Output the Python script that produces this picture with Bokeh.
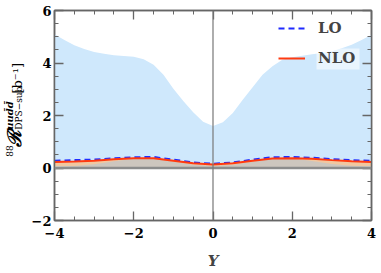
import numpy as np
from bokeh.plotting import figure
from bokeh.layouts import row
from bokeh.models import (Range1d, SingleIntervalTicker, LinearAxis, Span, Label,
                          Legend, LegendItem, CustomJSTickFormatter, BoxAnnotation)
from bokeh.embed import file_html
from bokeh.resources import INLINE

# ---------------- data ----------------
Y_fine = [-4.0, -3.75, -3.5, -3.25, -3.0, -2.75, -2.5, -2.25, -2.0, -1.75, -1.5, -1.25,
          -1.0, -0.75, -0.5, -0.25, 0.0, 0.25, 0.5, 0.75, 1.0, 1.25, 1.5, 1.75,
          2.0, 2.25, 2.5, 2.75, 3.0, 3.25, 3.5, 3.75, 4.0]
band_upper = [5.10, 4.88, 4.68, 4.53, 4.42, 4.35, 4.30, 4.27, 4.24, 4.14, 3.93, 3.55,
              3.02, 2.55, 2.12, 1.76, 1.60, 1.74, 2.10, 2.60, 3.08, 3.55, 3.88, 4.12,
              4.22, 4.28, 4.33, 4.38, 4.45, 4.56, 4.70, 4.88, 5.08]

Y = [-4.0, -3.5, -3.0, -2.5, -2.0, -1.5, -1.0, -0.5, 0.0, 0.5, 1.0, 1.5, 2.0, 2.5, 3.0, 3.5, 4.0]
LO = [0.28, 0.30, 0.32, 0.37, 0.41, 0.42, 0.32, 0.21, 0.16, 0.21, 0.32, 0.41, 0.42, 0.39, 0.34, 0.30, 0.27]
NLO = [0.23, 0.25, 0.28, 0.33, 0.37, 0.37, 0.28, 0.18, 0.13, 0.18, 0.28, 0.36, 0.37, 0.35, 0.30, 0.26, 0.23]
orange_lo = [0.06, 0.06, 0.07, 0.08, 0.09, 0.09, 0.08, 0.06, 0.05, 0.06, 0.08, 0.09, 0.09, 0.08, 0.07, 0.06, 0.06]
orange_hi = [0.24, 0.26, 0.29, 0.34, 0.38, 0.38, 0.29, 0.19, 0.14, 0.19, 0.29, 0.37, 0.38, 0.36, 0.31, 0.27, 0.24]
gray_hi = [0.05, 0.08, 0.14, 0.26, 0.35, 0.35, 0.24, 0.12, 0.08, 0.12, 0.24, 0.35, 0.36, 0.27, 0.15, 0.09, 0.06]

# ---------------- layout ----------------
W, H = 381, 273
LW = 25                              # width of the strip holding the y-axis title
FONT = "DejaVu Serif"
AX_COL = "#666666"
FL, FT, FR, FB = 54, 10, 371, 220    # frame edges in page pixels

p = figure(width=W - LW, height=H, output_backend="svg", toolbar_location=None,
           x_range=Range1d(-4, 4), y_range=Range1d(-2, 6),
           min_border_left=FL - LW, min_border_right=W - FR, min_border_top=FT,
           min_border_bottom=H - FB)
p.outline_line_color = AX_COL
p.outline_line_width = 1.5
p.grid.visible = False
p.background_fill_color = "white"
p.border_fill_color = "white"

# bands
p.varea(x=Y_fine, y1=0, y2=band_upper, fill_color="#cfe8fc")
p.varea(x=Y, y1=orange_lo, y2=orange_hi, fill_color="#f1c7a0")
p.varea(x=Y, y1=0, y2=gray_hi, fill_color="#cdc6be")

p.add_layout(Span(location=0, dimension="width", line_color="#8c8c8c", line_width=2.5))
p.add_layout(Span(location=0, dimension="height", line_color="#777777", line_width=1.2))

r_lo = p.line(Y, LO, line_color="#1f2bff", line_width=2, line_dash="6 4")
r_nlo = p.line(Y, NLO, line_color="#ff3a10", line_width=2)

# axes
def style_axis(ax, labels=True):
    ax.ticker = SingleIntervalTicker(interval=2, num_minor_ticks=4)
    ax.axis_line_color = AX_COL
    ax.axis_line_width = 1.5
    ax.major_tick_line_color = AX_COL
    ax.minor_tick_line_color = AX_COL
    ax.major_tick_line_width = 1.3
    ax.minor_tick_line_width = 1.0
    ax.major_tick_in = 9
    ax.major_tick_out = 0
    ax.minor_tick_in = 4
    ax.minor_tick_out = 0
    if labels:
        ax.major_label_text_font = FONT
        ax.major_label_text_font_style = "bold"
        ax.major_label_text_font_size = "13px"
        ax.major_label_text_color = "black"
    else:
        ax.formatter = CustomJSTickFormatter(code="return ''")
        ax.major_label_standoff = 0

style_axis(p.xaxis[0])
style_axis(p.yaxis[0])
p.xaxis[0].major_label_standoff = 7
p.yaxis[0].major_label_standoff = 3
p.xaxis[0].axis_label = "Y"
p.xaxis[0].axis_label_text_font = FONT
p.xaxis[0].axis_label_text_font_style = "bold italic"
p.xaxis[0].axis_label_text_font_size = "15px"
p.xaxis[0].axis_label_standoff = 11

top_ax = LinearAxis()
right_ax = LinearAxis()
style_axis(top_ax, labels=False)
style_axis(right_ax, labels=False)
p.add_layout(top_ax, "above")
p.add_layout(right_ax, "right")

# translucent box behind the NLO legend text
def px2x(px):
    return -4 + (px - FL) * 8 / (FR - FL)

def py2y(py):
    return 6 - (py - FT) * 8 / (FB - FT)

p.add_layout(BoxAnnotation(left=px2x(316), right=px2x(359), top=py2y(48), bottom=py2y(69),
                           fill_color="white", fill_alpha=0.55, line_color=None))

# legend
legend = Legend(items=[LegendItem(label="LO", renderers=[r_lo]),
                       LegendItem(label="NLO", renderers=[r_nlo])],
                location=(224, 152), background_fill_alpha=0, border_line_color=None,
                label_text_font=FONT, label_text_font_style="bold", label_text_font_size="15px",
                glyph_width=27, glyph_height=20, label_height=20, spacing=10,
                label_standoff=13, padding=0, margin=0)
p.add_layout(legend)

# ---------------- y-axis title strip ----------------
q = figure(width=LW, height=H, output_backend="svg", toolbar_location=None,
           x_range=Range1d(0, LW), y_range=Range1d(0, H),
           x_axis_type=None, y_axis_type=None,
           min_border_left=0, min_border_right=0, min_border_top=0, min_border_bottom=0)
q.outline_line_color = None
q.grid.visible = False
q.background_fill_color = "white"
q.border_fill_color = "white"

def ylab(text, cx, sy, size, style="normal"):
    # cx: horizontal centre of the rotated text, sy: its lower end (page px)
    q.add_layout(Label(x=cx, y=H - sy, text=text, angle=np.pi / 2,
                       text_align="left", text_baseline="middle",
                       text_font=FONT, text_font_style=style, text_font_size=size,
                       text_color="black"))

ylab("88", 8.5, 190, "9px")
ylab("\u211b", 13, 178, "19px", "bold italic")
ylab("uud\u0304d\u0304", 8.5, 155, "10px", "bold italic")
ylab("DPS\u2212sub", 18.5, 155, "9px")
ylab("[b\u207b\u00b9]", 17, 108, "13px")

layout = row(q, p, spacing=0)
open("out.html", "w").write(file_html(layout, INLINE))
